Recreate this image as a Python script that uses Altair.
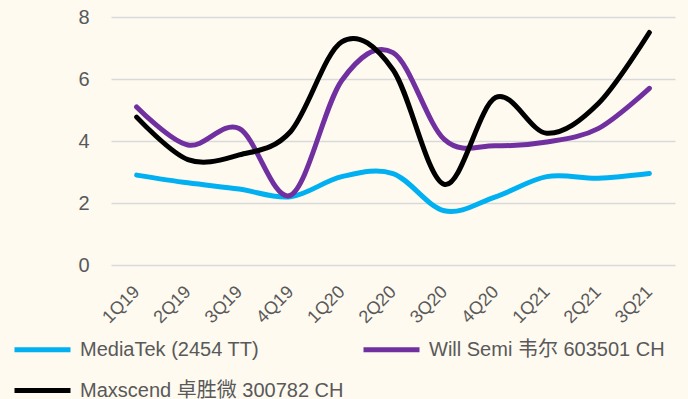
import altair as alt
import pandas as pd

quarters = ["1Q19", "2Q19", "3Q19", "4Q19", "1Q20", "2Q20", "3Q20", "4Q20", "1Q21", "2Q21", "3Q21"]
mediatek = [2.9, 2.65, 2.45, 2.2, 2.85, 2.95, 1.75, 2.2, 2.85, 2.8, 2.95]
will_semi = [5.1, 3.87, 4.4, 2.25, 5.95, 6.85, 4.05, 3.85, 3.97, 4.4, 5.7]
maxscend = [4.77, 3.4, 3.55, 4.3, 7.2, 6.3, 2.6, 5.4, 4.25, 5.2, 7.5]

series_names = ["MediaTek (2454 TT)", "Will Semi 韦尔 603501 CH", "Maxscend 卓胜微 300782 CH"]
series_colors = ["#00b0f0", "#7030a0", "#000000"]

rows = []
for name, values in zip(series_names, [mediatek, will_semi, maxscend]):
    for q, v in zip(quarters, values):
        rows.append({"quarter": q, "value": v, "series": name})
df = pd.DataFrame(rows)

font = "Liberation Sans, Arial, Noto Sans CJK SC, sans-serif"

chart = alt.Chart(df).mark_line(
    interpolate="cardinal", strokeWidth=5, strokeCap="round"
).encode(
    x=alt.X("quarter:N", sort=quarters, title=None,
            scale=alt.Scale(type="point", padding=0.5),
            axis=alt.Axis(labelAngle=-45, labelAlign="right", labelBaseline="middle",
                          labelFontSize=18, labelColor="#595959", labelFont=font,
                          ticks=False, domain=False, labelPadding=24, grid=False)),
    y=alt.Y("value:Q", title=None,
            scale=alt.Scale(domain=[0, 8], nice=False),
            axis=alt.Axis(values=[0, 2, 4, 6, 8], labelFontSize=20, labelColor="#595959",
                          labelFont=font, ticks=False, domain=False, labelPadding=22,
                          gridColor="#d9d9d9", gridWidth=1.5)),
    color=alt.Color("series:N", title=None, sort=series_names,
                    scale=alt.Scale(domain=series_names, range=series_colors),
                    legend=alt.Legend(orient="none", legendX=-99, legendY=302, columns=2,
                                      direction="horizontal",
                                      symbolType="stroke", symbolSize=3136, symbolStrokeWidth=5,
                                      labelFontSize=20, labelColor="#595959", labelFont=font,
                                      labelLimit=500, columnPadding=9, rowPadding=-21,
                                      labelOffset=7)),
).properties(
    width=564, height=248,
    autosize=alt.AutoSizeParams(type="none"),
    padding={"left": 111, "top": 17, "right": 13, "bottom": 134},
    background="#fefaf0",
).configure_view(stroke=None)

chart.save("out.html", embed_options={"renderer": "svg", "actions": False})
